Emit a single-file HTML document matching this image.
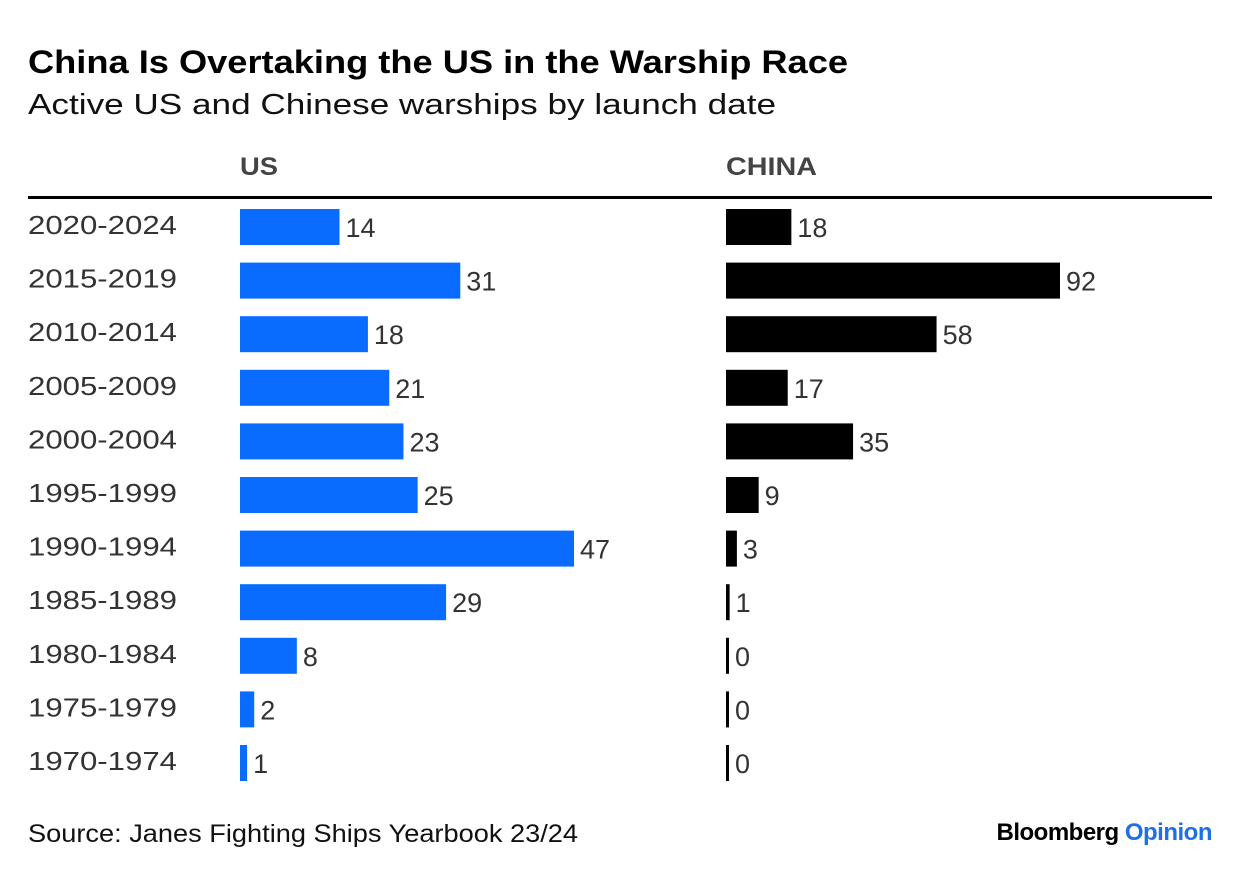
<!DOCTYPE html>
<html><head><meta charset="utf-8"><style>
body{margin:0;background:#fff;width:1240px;height:876px;overflow:hidden;font-family:"Liberation Sans",sans-serif}
</style></head><body>
<svg width="1240" height="876" id="c" font-family="Liberation Sans, sans-serif">
<text x="28" y="73" font-size="32" font-weight="bold" fill="#000" textLength="820" lengthAdjust="spacingAndGlyphs">China Is Overtaking the US in the Warship Race</text>
<text x="28" y="114" font-size="29" fill="#111" textLength="748" lengthAdjust="spacingAndGlyphs">Active US and Chinese warships by launch date</text>
<text x="240" y="175" font-size="25" font-weight="bold" fill="#444" textLength="38" lengthAdjust="spacingAndGlyphs">US</text>
<text x="726" y="175" font-size="25" font-weight="bold" fill="#444" textLength="91" lengthAdjust="spacingAndGlyphs">CHINA</text>
<rect x="28" y="196" width="1184" height="3" fill="#000"/>
<g id="rows"></g>
<text x="28" y="842" font-size="25" fill="#111" textLength="550" lengthAdjust="spacingAndGlyphs">Source: Janes Fighting Ships Yearbook 23/24</text>
<text x="1212" y="840" font-size="24" font-weight="bold" text-anchor="end" letter-spacing="-0.5"><tspan fill="#000">Bloomberg </tspan><tspan fill="#1f6fe8">Opinion</tspan></text>
</svg>
<script>
const categories=["2020-2024","2015-2019","2010-2014","2005-2009","2000-2004","1995-1999","1990-1994","1985-1989","1980-1984","1975-1979","1970-1974"];
const usValues=[14,31,18,21,23,25,47,29,8,2,1];
const chinaValues=[18,92,58,17,35,9,3,1,0,0,0];
const ns="http://www.w3.org/2000/svg";
const g=document.getElementById('rows');
const rowY=i=>227+i*53.6;
const maxLen=334;
const usX=v=>Math.max(v/Math.max(...usValues)*maxLen,3);
const cnX=v=>Math.max(v/Math.max(...chinaValues)*maxLen,3);
function mk(tag,attrs){const e=document.createElementNS(ns,tag);for(const k in attrs)e.setAttribute(k,attrs[k]);g.appendChild(e);return e;}
categories.forEach((c,i)=>{
  const y=rowY(i);
  const l=mk('text',{x:28,y:y+7,'font-size':26,fill:'#333',textLength:149,lengthAdjust:'spacingAndGlyphs'});l.textContent=c;
  
  
  const w1=usX(usValues[i]);
  const b1=mk('rect',{x:240,y:y-18,width:w1,height:36,fill:'#0a6cff'});
  
  
  const t1=mk('text',{x:240+w1+6,y:y+10,'font-size':27,fill:'#333'});t1.textContent=usValues[i];
  
  
  const w2=cnX(chinaValues[i]);
  const b2=mk('rect',{x:726,y:y-18,width:w2,height:36,fill:'#000'});
  
  
  const t2=mk('text',{x:726+w2+6,y:y+10,'font-size':27,fill:'#333'});t2.textContent=chinaValues[i];
  
  
});
</script>
</body></html>
